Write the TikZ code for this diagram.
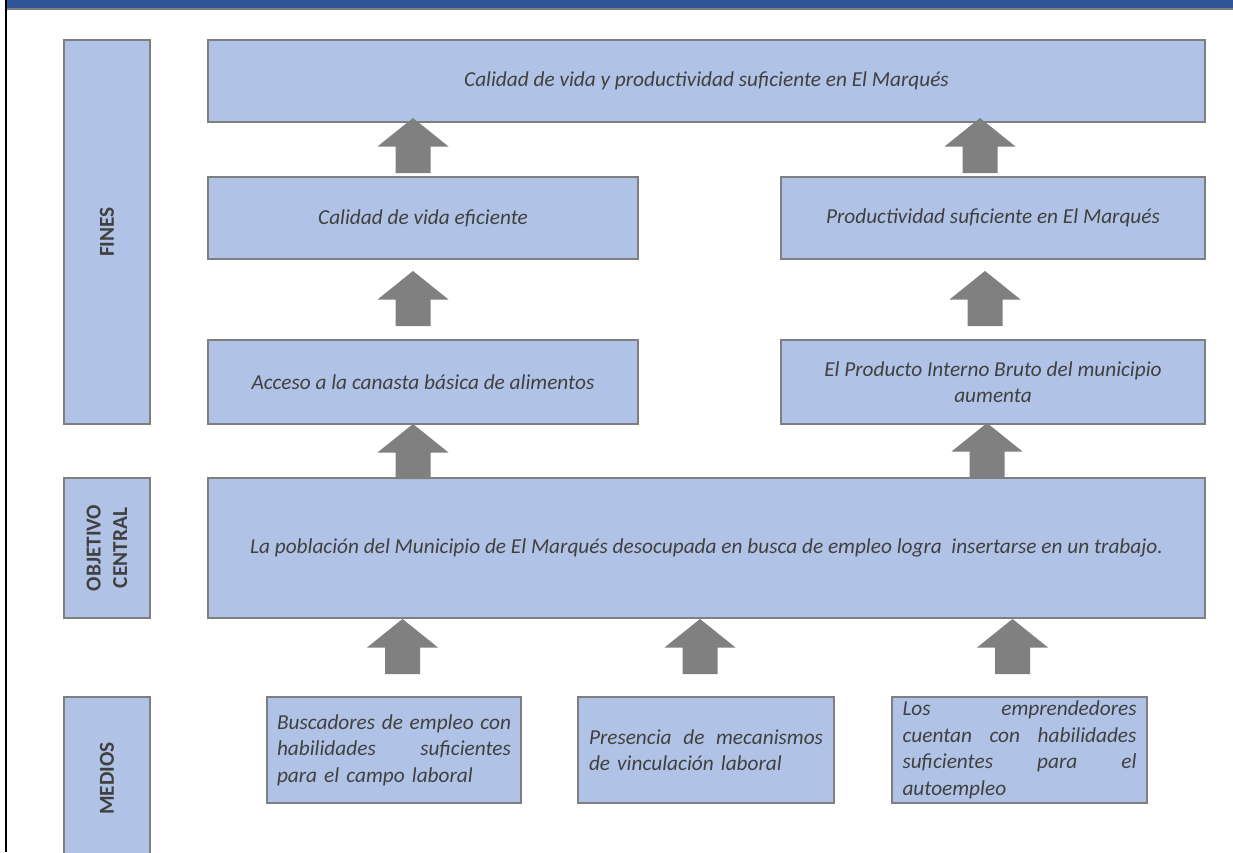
\documentclass[tikz,border=0pt]{standalone}
\usepackage{fontspec}
\setmainfont{Carlito}
\definecolor{boxblue}{HTML}{B0C3E6}
\definecolor{bordergray}{HTML}{7F7F7F}
\definecolor{arrowgray}{HTML}{808080}
\definecolor{textgray}{HTML}{404040}
\definecolor{bandblue}{HTML}{2F5597}
\newcommand\blockarr[3]{%
  \coordinate (#1) at (#2,#3);
  \fill[arrowgray] (#1) -- ++(35.5,28.5) -- ++(-18,0) -- ++(0,26.5) -- ++(-35,0) -- ++(0,-26.5) -- ++(-18,0) -- cycle;}
\newcommand\jl[1]{\leavevmode\hbox to 234pt{#1}}
\begin{document}
\begin{tikzpicture}[x=1pt,y=-1pt,
  box/.style={draw=bordergray, line width=1.8pt, fill=boxblue, text=textgray,
    font=\fontsize{21.3}{26.5}\selectfont\itshape, inner sep=0pt, align=center},
  lab/.style={draw=bordergray, line width=1.8pt, fill=boxblue, text=textgray,
    font=\fontsize{21.3}{26.5}\selectfont\bfseries, inner sep=0pt, align=center, rotate=90},
]
\useasboundingbox (0,0) rectangle (1233,852);
\fill[white] (0,0) rectangle (1233,852);
\begin{scope}
\clip (0,0) rectangle (1233,852);
% header band and left rule
\fill[bandblue] (7,0) rectangle (1233,8);
\fill[bordergray] (7,8) rectangle (1233,10);
\fill[black] (5,0) rectangle (7,852);

% row labels
\node[lab, minimum width=384pt, minimum height=86pt] (fines) at (107,232) {FINES};
\node[lab, minimum width=140pt, minimum height=86pt] (objetivo) at (107,548) {OBJETIVO\\CENTRAL};
\node[lab, minimum width=163pt, minimum height=86pt] (medios) at (107,778.5) {MEDIOS};

% fines
\node[box, minimum width=997pt, minimum height=82pt] (top) at (706.5,81)
  {Calidad de vida y productividad suficiente en El Marqués};
\node[box, minimum width=430pt, minimum height=82pt] (vida) at (423,218)
  {Calidad de vida eficiente};
\node[box, minimum width=424pt, minimum height=82pt] (prod) at (993,218)
  {Productividad suficiente en El Marqués};
\node[box, minimum width=430pt, minimum height=84pt] (canasta) at (423,382)
  {Acceso a la canasta básica de alimentos};
\node[box, minimum width=424pt, minimum height=84pt] (pib) at (993,382)
  {El Producto Interno Bruto del municipio\\aumenta};

% objetivo central
\node[box, minimum width=997pt, minimum height=140pt] (main) at (706.5,548)
  {La población del Municipio de El Marqués desocupada en busca de empleo logra \ insertarse en un trabajo.};

% medios
\node[box, align=left, text width=234pt, minimum width=254pt, minimum height=106pt] (m1) at (394,750)
  {\jl{Buscadores\hfill de\hfill empleo\hfill con}\\
   \jl{habilidades\hfill suficientes}\\
   para el campo laboral};
\node[box, align=left, text width=234pt, minimum width=256pt, minimum height=106pt] (m2) at (706,750)
  {\jl{Presencia\hfill de\hfill mecanismos}\\
   de vinculación laboral};
\node[box, align=left, text width=234pt, minimum width=255pt, minimum height=106pt] (m3) at (1019.5,750)
  {\jl{Los\hfill emprendedores}\\
   \jl{cuentan\hfill con\hfill habilidades}\\
   \jl{suficientes\hfill para\hfill el}\\
   autoempleo};

% block arrows
\blockarr{a1}{413}{118}
\blockarr{a2}{980}{118}
\blockarr{a3}{413}{271}
\blockarr{a4}{985}{271}
\blockarr{a5}{413}{424}
\blockarr{a6}{987}{423}
\blockarr{a7}{402.5}{619}
\blockarr{a8}{700}{619}
\blockarr{a9}{1012.5}{619}
\end{scope}
\end{tikzpicture}
\end{document}
